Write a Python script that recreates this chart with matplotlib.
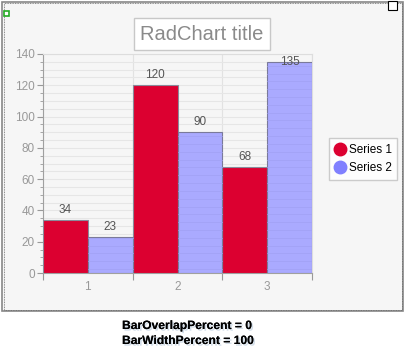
import matplotlib
matplotlib.use("Agg")
import matplotlib.pyplot as plt
import matplotlib.patches as mpatches
import matplotlib.patheffects as pe
from matplotlib.lines import Line2D
import numpy as np

categories = ["1", "2", "3"]
series1 = [34, 120, 68]
series2 = [23, 90, 135]
series_names = ["Series 1", "Series 2"]
title = "RadChart title"
caption = ["BarOverlapPercent = 0", "BarWidthPercent = 100"]

W, H = 411, 360
fig = plt.figure(figsize=(W / 100, H / 100), dpi=100)
fig.patch.set_facecolor("white")

def fx(px):
    return px / W

def fy(py):
    return 1 - py / H

# panel background and border
panel = mpatches.Rectangle((fx(2), fy(311)), fx(403) - fx(2), fy(2) - fy(311),
                           transform=fig.transFigure, facecolor="#f6f6f6",
                           edgecolor="#888888", linewidth=1.2, zorder=-2)
fig.patches.append(panel)
inner = mpatches.Rectangle((fx(3.5), fy(309.5)), fx(402) - fx(3.5), fy(3.5) - fy(309.5),
                           transform=fig.transFigure, facecolor="none",
                           edgecolor="#666666", linewidth=0.6, linestyle=(0, (1, 1)), zorder=-1)
fig.patches.append(inner)
# small icons
fig.patches.append(mpatches.Rectangle((fx(4), fy(16)), fx(5), fy(11) - fy(16),
                                      transform=fig.transFigure, facecolor="#ffffff",
                                      edgecolor="#22aa22", linewidth=1.2, zorder=-1))
fig.patches.append(mpatches.Rectangle((fx(388), fy(10)), fx(9), fy(1) - fy(10),
                                      transform=fig.transFigure, facecolor="white",
                                      edgecolor="black", linewidth=0.8, zorder=-1))

# title box
fig.text(fx(202), fy(34), title, ha="center", va="center", fontsize=14.5,
         color="#8a8a8a", family="Liberation Sans",
         bbox=dict(boxstyle="square,pad=0.3", facecolor="white", edgecolor="#c8c8c8", linewidth=1))

# axes
left, right, top, bottom = 43, 312, 54, 273
ax = fig.add_axes([fx(left), fy(bottom), fx(right) - fx(left), fy(top) - fy(bottom)])
ax.set_zorder(2)
ax.set_facecolor("#f6f6f6")
x = np.arange(1, len(categories) + 1)
bw = 0.5
red = "#dc0030"
blue = "#aaaaff"
b1 = ax.bar(x - bw / 2, series1, width=bw, color=red, edgecolor="#8a8a9a", linewidth=0.8, zorder=3)
b2 = ax.bar(x + bw / 2, series2, width=bw, color=blue, edgecolor="#7a7a9a", linewidth=0.8, zorder=3)
# subtle stripes on blue bars
for r in b2:
    h = r.get_height()
    for yy in np.arange(2.5, h, 5):
        ax.plot([r.get_x(), r.get_x() + r.get_width()], [yy, yy], color="#a0a0f4", lw=0.5, zorder=4)

ymax = 140
ax.set_xlim(0.5, len(categories) + 0.5)
ax.set_ylim(0, ymax)

for xs, vals in ((x - bw / 2, series1), (x + bw / 2, series2)):
    for xi, v in zip(xs, vals):
        yv = min(v + 2.5, ymax - 9)
        ax.text(xi, yv, str(v), ha="center", va="bottom", fontsize=8.5, color="#555555",
                family="Liberation Sans", zorder=5)

ax.set_yticks(np.arange(0, ymax + 1, 20))
ax.set_yticks(np.arange(0, ymax + 1, 5), minor=True)
ax.set_xticks(np.arange(0.5, len(categories) + 1, 1))
ax.set_xticklabels([])
ax.set_xticks(x, minor=True)
ax.set_xticklabels(categories, minor=True)
ax.tick_params(axis="y", which="major", length=4, color="#999999", labelcolor="#999999",
               labelsize=8.5, pad=2)
ax.tick_params(axis="y", which="minor", length=2, color="#999999")
ax.tick_params(axis="x", which="major", length=5, color="#999999", direction="out")
ax.tick_params(axis="x", which="minor", length=0, labelcolor="#999999", labelsize=8.5, pad=6)
for t in ax.get_xticklabels(minor=True) + ax.get_yticklabels():
    t.set_family("Liberation Sans")

ax.grid(axis="y", which="both", color="#e6e6e6", linewidth=0.8, zorder=0)
ax.grid(axis="x", which="major", color="#e2e2e2", linewidth=0.8, zorder=0)
ax.set_axisbelow(True)
ax.spines["left"].set_color("#a0a0a0")
ax.spines["bottom"].set_color("#a0a0a0")
ax.spines["top"].set_color("#dddddd")
ax.spines["right"].set_color("#dddddd")

# legend
handles = [Line2D([], [], marker="o", linestyle="none", markersize=9, markerfacecolor=red,
                  markeredgecolor=red),
           Line2D([], [], marker="o", linestyle="none", markersize=9, markerfacecolor="#8080ff",
                  markeredgecolor="#8080ff")]
leg = fig.legend(handles, series_names, loc="center", bbox_to_anchor=(fx(363), fy(159)),
                 frameon=True, fancybox=False, handletextpad=0.2,
                 borderpad=0.45, labelspacing=0.55, handlelength=1.0, borderaxespad=0,
                 prop={"family": "Liberation Sans", "size": 8.5})
leg.get_frame().set_edgecolor("#c0c0c0")
leg.get_frame().set_linewidth(1)
leg.set_zorder(3)

# caption
shadow = [pe.withSimplePatchShadow(offset=(1.2, -1.2), shadow_rgbFace="#7f9fc0", alpha=0.35),
          pe.Normal()]
fig.text(fx(122), fy(326), caption[0], ha="left", va="center", fontsize=8.7, fontweight="bold",
         family="Liberation Sans", color="black", path_effects=shadow)
fig.text(fx(122), fy(341), caption[1], ha="left", va="center", fontsize=8.7, fontweight="bold",
         family="Liberation Sans", color="black", path_effects=shadow)

fig.savefig("out.png", dpi=100)
